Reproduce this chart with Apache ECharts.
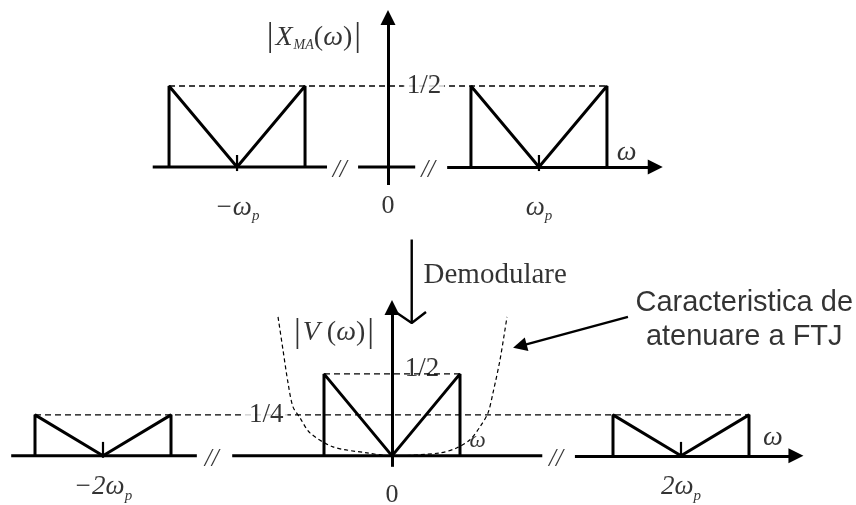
<!DOCTYPE html>
<html>
<head>
<meta charset="utf-8">
<title>Demodulare</title>
<script src="https://cdn.jsdelivr.net/npm/echarts@6/dist/echarts.min.js"></script>
<style>
  html, body { margin: 0; padding: 0; background: #fff; }
  #main { width: 856px; height: 505px; }
</style>
</head>
<body>
<div id="main"></div>
<script>
// Frequency is measured in band half-widths; both axes are broken (//), so the
// spacing between the bands is schematic.

// ---- upper spectrum |X_MA(ω)| : bands around -ω_p and ω_p ----
const topBandX = [
  [-3.22, -3.22, -2.22, -1.22, -1.22],
  [1.22, 1.22, 2.22, 3.22, 3.22]
];
const topBandY = [0, 0.5, 0, 0.5, 0];
const topCenters = [-2.22, 2.22];
const topHalfLevel = 0.5;
const topAxisPieces = [[-3.46, -0.897], [-0.44, 0.40]];
const topAxisLast = [0.87, 3.93];
const topBreaks = [-0.71, 0.59];

// ---- lower spectrum |V(ω)| after demodulation ----
const botBandX = [
  [-5.25, -5.25, -4.25, -3.25, -3.25],
  [-1, -1, 0, 1, 1],
  [3.25, 3.25, 4.25, 5.25, 5.25]
];
const botBandY = [
  [0, 0.25, 0, 0.25, 0],
  [0, 0.5, 0, 0.5, 0],
  [0, 0.25, 0, 0.25, 0]
];
const botCenters = [-4.25, 4.25];
const botHalfSpan = [-1, 1];
const botQuarterSpan = [-5.25, 5.25];
const botAxisPieces = [[-5.60, -2.87], [-2.35, 2.21]];
const botAxisLast = [2.69, 5.94];
const botBreaks = [-2.65, 2.41];

// low-pass filter (FTJ) attenuation characteristic
const filterX = [-1.676, -1.603, -1.529, -1.456, -1.353, -1.206, -0.868, -0.368, 0, 0.706, 0.956, 1.147, 1.294, 1.412, 1.485, 1.588, 1.691];
const filterY = [0.848, 0.646, 0.445, 0.299, 0.232, 0.140, 0.055, 0.018, 0, 0.018, 0.049, 0.098, 0.177, 0.262, 0.384, 0.585, 0.848];

// ---- text ----
const topTitle = '{bar||}{X|X}{sub|MA}{par|(}{w|ω}{par|)}{bar||}';
const botTitle = '{bar||}{X|V}{par| (}{w|ω}{par|)}{bar||}';
const halfText = '1/2';
const quarterText = '1/4';
const omegaText = 'ω';
const zeroText = '0';
const topTickTexts = ['{m|−ω}{s|p}', '{m|ω}{s|p}'];
const botTickTexts = ['{m|−2ω}{s|p}', '{m|2ω}{s|p}'];
const demodText = 'Demodulare';
const filterText = 'Caracteristica de\natenuare a FTJ';

const SERIF = '"Liberation Serif", "Times New Roman", serif';
const SANS = '"Liberation Sans", Arial, sans-serif';
const INK = '#000';

const rich = {
  bar: { fontFamily: SERIF, fontSize: 34, color: INK, padding: [0, 2] },
  X: { fontFamily: SERIF, fontStyle: 'italic', fontSize: 28, color: INK },
  sub: { fontFamily: SERIF, fontStyle: 'italic', fontSize: 14, color: INK, padding: [16, 0, 0, 1] },
  par: { fontFamily: SERIF, fontSize: 28, color: INK },
  w: { fontFamily: SERIF, fontStyle: 'italic', fontSize: 28, color: INK },
  m: { fontFamily: SERIF, fontStyle: 'italic', fontSize: 27, color: INK },
  s: { fontFamily: SERIF, fontStyle: 'italic', fontSize: 15, color: INK, padding: [18, 0, 0, 0] }
};

const chart = echarts.init(document.getElementById('main'), null, { renderer: 'canvas' });

const solid = (w) => ({ color: INK, width: w, type: 'solid' });
const series = [];

function poly(grid, xs, ys, style, z, smooth) {
  series.push({
    type: 'line', xAxisIndex: grid, yAxisIndex: grid,
    data: xs.map((x, i) => [x, ys[i]]),
    symbol: 'none', clip: false, silent: true, animation: false,
    smooth: smooth || false,
    lineStyle: style, z: z || 3
  });
}

function arrow(grid, from, to, width, size) {
  series.push({
    type: 'line', xAxisIndex: grid, yAxisIndex: grid, data: [],
    silent: true, animation: false,
    markLine: {
      silent: true, animation: false, symbol: ['none', 'triangle'], symbolSize: size,
      lineStyle: { color: INK, width: width, type: 'solid' },
      itemStyle: { color: INK },
      label: { show: false }, emphasis: { disabled: true },
      data: [[{ coord: from }, { coord: to }]]
    }
  });
}

function texts(grid, items, z) {
  series.push({
    type: 'scatter', xAxisIndex: grid, yAxisIndex: grid,
    symbolSize: 1, itemStyle: { color: 'rgba(0,0,0,0)' },
    clip: false, silent: true, animation: false, z: z || 6,
    data: items.map(it => ({
      value: it.at,
      label: Object.assign({ show: true, position: 'inside', color: INK, rich: rich }, it.style, { formatter: it.text })
    }))
  });
}

// ----- upper panel (grid 0) -----
poly(0, [topBandX[0][0], topBandX[1][4]], [topHalfLevel, topHalfLevel], { color: INK, width: 1.4, type: [6, 4] }, 2);
topBandX.forEach(xs => poly(0, xs, topBandY, solid(3)));
topCenters.forEach(c => poly(0, [c, c], [0.074, -0.025], solid(2.2)));
topAxisPieces.forEach(p => poly(0, p, [0, 0], solid(3)));
arrow(0, [topAxisLast[0], 0], [topAxisLast[1], 0], 3, 15);
arrow(0, [0, -0.111], [0, 0.923], 3, 15);

texts(0, [
  { at: [-1.09, 0.80], text: topTitle, style: {} },
  { at: [0.53, 0.5], text: halfText, style: { fontFamily: SERIF, fontSize: 27, backgroundColor: '#fff', padding: [0, 3] } },
  { at: [3.51, 0.086], text: omegaText, style: { fontFamily: SERIF, fontStyle: 'italic', fontSize: 28 } },
  { at: [0, -0.24], text: zeroText, style: { fontFamily: SERIF, fontSize: 26 } },
  { at: [topCenters[0], -0.25], text: topTickTexts[0], style: {} },
  { at: [topCenters[1], -0.25], text: topTickTexts[1], style: {} },
  { at: [topBreaks[0], -0.02], text: '//', style: { fontFamily: SERIF, fontStyle: 'italic', fontSize: 25 } },
  { at: [topBreaks[1], -0.02], text: '//', style: { fontFamily: SERIF, fontStyle: 'italic', fontSize: 25 } }
]);

// ----- lower panel (grid 1) -----
poly(1, botQuarterSpan, [0.25, 0.25], { color: INK, width: 1.4, type: [6, 4] }, 2);
poly(1, botHalfSpan, [0.5, 0.5], { color: INK, width: 1.4, type: [6, 4] }, 2);
poly(1, filterX, filterY, { color: INK, width: 1.2, type: [4, 3] }, 2, 0.3);
botBandX.forEach((xs, i) => poly(1, xs, botBandY[i], solid(3)));
botCenters.forEach(c => poly(1, [c, c], [0.085, -0.012], solid(2.2)));
botAxisPieces.forEach(p => poly(1, p, [0, 0], solid(3)));
arrow(1, [botAxisLast[0], 0], [botAxisLast[1], 0], 3, 15);
arrow(1, [0, -0.067], [0, 0.905], 3, 15);
// callout from the note to the filter curve
arrow(1, [3.47, 0.848], [1.88, 0.67], 2.4, 14);
// demodulation arrow (open head)
poly(1, [0.29, 0.29], [1.32, 0.811], solid(2.4));
poly(1, [0.074, 0.29, 0.5], [0.872, 0.811, 0.878], solid(2.4));

texts(1, [
  { at: [-0.853, 0.75], text: botTitle, style: {} },
  { at: [0.44, 0.53], text: halfText, style: { fontFamily: SERIF, fontSize: 27 } },
  { at: [-1.85, 0.25], text: quarterText, style: { fontFamily: SERIF, fontSize: 27, backgroundColor: '#fff', padding: [0, 4] } },
  { at: [1.26, 0.09], text: omegaText, style: { fontFamily: SERIF, fontStyle: 'italic', fontSize: 23 } },
  { at: [5.60, 0.11], text: omegaText, style: { fontFamily: SERIF, fontStyle: 'italic', fontSize: 28 } },
  { at: [0, -0.238], text: zeroText, style: { fontFamily: SERIF, fontSize: 26 } },
  { at: [botCenters[0], -0.19], text: botTickTexts[0], style: {} },
  { at: [botCenters[1], -0.19], text: botTickTexts[1], style: {} },
  { at: [botBreaks[0], -0.02], text: '//', style: { fontFamily: SERIF, fontStyle: 'italic', fontSize: 25 } },
  { at: [botBreaks[1], -0.02], text: '//', style: { fontFamily: SERIF, fontStyle: 'italic', fontSize: 25 } },
  { at: [0.456, 1.10], text: demodText, style: { fontFamily: SERIF, fontSize: 29, position: 'right', distance: 0 } },
  { at: [5.18, 0.829], text: filterText, style: { fontFamily: SANS, fontSize: 29, align: 'center', lineHeight: 34 } }
]);

const hiddenAxis = (min, max, idx) => ({
  type: 'value', min: min, max: max, gridIndex: idx, show: false
});

chart.setOption({
  animation: false,
  backgroundColor: '#fff',
  grid: [
    { left: 150, top: 5, width: 510, height: 218.7 },
    { left: 1, top: 226.4, width: 816, height: 278.8 }
  ],
  xAxis: [hiddenAxis(-3.5, 4.0, 0), hiddenAxis(-5.75, 6.25, 1)],
  yAxis: [hiddenAxis(-0.35, 1.0, 0), hiddenAxis(-0.3, 1.4, 1)],
  series: series
});
</script>
</body>
</html>
